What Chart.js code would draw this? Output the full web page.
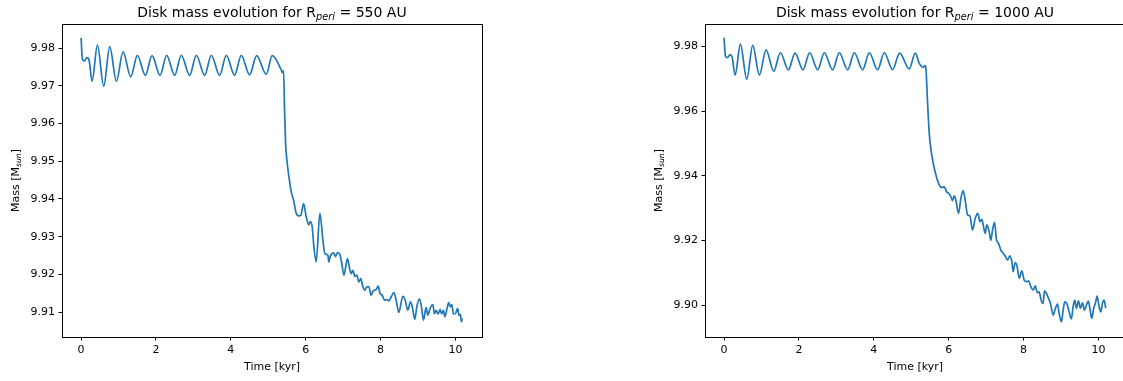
<!DOCTYPE html>
<html>
<head>
<meta charset="utf-8">
<title>Disk mass evolution</title>
<script src="https://cdn.jsdelivr.net/npm/chart.js@4.4.1/dist/chart.umd.min.js"></script>
<style>
    html, body { margin: 0; padding: 0; background: #fff; }
    body { width: 1123px; height: 381px; overflow: hidden; position: relative; }
    canvas { position: absolute; top: 0; }
    #massChart550 { left: 0; }
    #massChart1000 { left: 643px; }
</style>
</head>
<body>
<canvas id="massChart550" width="561" height="381"></canvas>
<canvas id="massChart1000" width="561" height="381"></canvas>
<script>
// Axis ticks and limits
const xTicks = [0, 2, 4, 6, 8, 10];
const xLimits = [-0.51, 10.71];
const yTicks550 = [9.91, 9.92, 9.93, 9.94, 9.95, 9.96, 9.97, 9.98];
const yLimits550 = [9.9034, 9.9864];
const yTicks1000 = [9.90, 9.92, 9.94, 9.96, 9.98];
const yLimits1000 = [9.8901, 9.9870];

// R_peri = 550 AU
const time550 = [
    0, 0.036, 0.089, 0.160, 0.214, 0.294, 0.436, 0.605, 0.765, 0.943,
    1.121, 1.326, 1.504, 1.717, 1.895, 2.109, 2.286, 2.500, 2.678, 2.900,
    3.078, 3.301, 3.479, 3.701, 3.879, 4.101, 4.279, 4.502, 4.689, 4.947,
    5.107, 5.347, 5.374, 5.409, 5.436, 5.463, 5.498, 5.552, 5.614, 5.676,
    5.747, 5.819, 5.872, 5.943, 6.014, 6.085, 6.121, 6.174, 6.219, 6.281,
    6.379, 6.459, 6.512, 6.593, 6.619, 6.655, 6.744, 6.797, 6.851, 6.904,
    6.966, 7.020, 7.117, 7.171, 7.215, 7.260, 7.313, 7.367, 7.420, 7.473,
    7.527, 7.580, 7.633, 7.687, 7.749, 7.811, 7.883, 7.936, 7.989, 8.043,
    8.105, 8.167, 8.221, 8.292, 8.354, 8.416, 8.488, 8.594, 8.657, 8.728,
    8.799, 8.843, 8.915, 8.968, 9.039, 9.093, 9.146, 9.217, 9.262, 9.324,
    9.395, 9.440, 9.484, 9.537, 9.591, 9.635, 9.680, 9.715, 9.778, 9.822,
    9.867, 9.902, 9.947, 10.000, 10.062, 10.089, 10.133, 10.160, 10.178
];
const mass550 = [
    9.9827, 9.9770, 9.9766, 9.9775, 9.9768, 9.9712, 9.9808, 9.9699, 9.9804, 9.9712,
    9.9790, 9.9724, 9.9781, 9.9728, 9.9780, 9.9728, 9.9781, 9.9728, 9.9781, 9.9728,
    9.9781, 9.9728, 9.9781, 9.9728, 9.9781, 9.9728, 9.9781, 9.9729, 9.9780, 9.9731,
    9.9780, 9.9742, 9.9735, 9.9740, 9.9636, 9.9547, 9.9503, 9.9459, 9.9419, 9.9397,
    9.9362, 9.9355, 9.9357, 9.9388, 9.9353, 9.9331, 9.9340, 9.9326, 9.9273, 9.9233,
    9.9362, 9.9291, 9.9255, 9.9251, 9.9233, 9.9247, 9.9257, 9.9247, 9.9258, 9.9255,
    9.9229, 9.9198, 9.9242, 9.9216, 9.9202, 9.9211, 9.9195, 9.9198, 9.9180, 9.9189,
    9.9167, 9.9158, 9.9167, 9.9167, 9.9145, 9.9157, 9.9160, 9.9169, 9.9149, 9.9145,
    9.9132, 9.9133, 9.9130, 9.9142, 9.9152, 9.9132, 9.9099, 9.9142, 9.9132, 9.9105,
    9.9127, 9.9116, 9.9081, 9.9114, 9.9135, 9.9114, 9.9079, 9.9112, 9.9092, 9.9110,
    9.9120, 9.9096, 9.9105, 9.9095, 9.9107, 9.9095, 9.9105, 9.9088, 9.9110, 9.9125,
    9.9114, 9.9120, 9.9095, 9.9096, 9.9110, 9.9092, 9.9094, 9.9074, 9.9083
];

// R_peri = 1000 AU
const time1000 = [
    0, 0.036, 0.089, 0.160, 0.214, 0.294, 0.436, 0.605, 0.765, 0.943,
    1.121, 1.326, 1.504, 1.717, 1.895, 2.109, 2.286, 2.500, 2.678, 2.900,
    3.078, 3.301, 3.479, 3.701, 3.879, 4.101, 4.279, 4.502, 4.689, 4.947,
    5.107, 5.214, 5.320, 5.365, 5.391, 5.436, 5.480, 5.534, 5.587, 5.658,
    5.747, 5.819, 5.881, 5.943, 5.996, 6.059, 6.103, 6.148, 6.192, 6.263,
    6.326, 6.388, 6.441, 6.504, 6.566, 6.637, 6.708, 6.779, 6.833, 6.886,
    6.922, 6.975, 7.020, 7.082, 7.126, 7.171, 7.224, 7.278, 7.331, 7.393,
    7.456, 7.509, 7.571, 7.633, 7.687, 7.722, 7.776, 7.829, 7.883, 7.954,
    8.016, 8.078, 8.132, 8.194, 8.256, 8.310, 8.372, 8.416, 8.470, 8.523,
    8.559, 8.612, 8.665, 8.719, 8.790, 8.843, 8.906, 8.950, 9.012, 9.057,
    9.101, 9.155, 9.217, 9.279, 9.324, 9.368, 9.413, 9.466, 9.520, 9.573,
    9.626, 9.680, 9.733, 9.778, 9.822, 9.875, 9.929, 9.964, 10.018, 10.062,
    10.107, 10.151, 10.196
];
const mass1000 = [
    9.9827, 9.9770, 9.9766, 9.9775, 9.9768, 9.9712, 9.9808, 9.9699, 9.9804, 9.9712,
    9.9790, 9.9724, 9.9781, 9.9728, 9.9780, 9.9728, 9.9781, 9.9728, 9.9781, 9.9728,
    9.9781, 9.9728, 9.9781, 9.9728, 9.9781, 9.9728, 9.9781, 9.9729, 9.9780, 9.9731,
    9.9780, 9.9748, 9.9736, 9.9741, 9.9733, 9.9625, 9.9532, 9.9475, 9.9439, 9.9403,
    9.9372, 9.9364, 9.9366, 9.9351, 9.9346, 9.9335, 9.9323, 9.9338, 9.9325, 9.9284,
    9.9330, 9.9354, 9.9325, 9.9279, 9.9276, 9.9232, 9.9268, 9.9284, 9.9258, 9.9265,
    9.9248, 9.9222, 9.9248, 9.9227, 9.9201, 9.9232, 9.9256, 9.9201, 9.9191, 9.9170,
    9.9160, 9.9152, 9.9139, 9.9152, 9.9134, 9.9103, 9.9131, 9.9119, 9.9083, 9.9106,
    9.9077, 9.9072, 9.9075, 9.9057, 9.9046, 9.9059, 9.9038, 9.9041, 9.9015, 9.9005,
    9.9044, 9.9036, 9.9021, 9.9005, 9.8969, 9.8987, 9.9003, 9.8974, 9.8948, 9.8984,
    9.9010, 9.9005, 9.8979, 9.8957, 9.8995, 9.9015, 9.8990, 9.9013, 9.8990, 9.9007,
    9.8984, 9.9000, 9.9012, 9.8984, 9.8959, 9.8990, 9.9010, 9.9028, 9.8995, 9.8979,
    9.9005, 9.9015, 9.8990
];

const FONT = '"DejaVu Sans"';
const tickFont = { family: FONT, size: 11 };
const tickGrid = {
    drawOnChartArea: false,
    drawTicks: true,
    tickLength: 3.5,
    color: '#000',
    lineWidth: 1
};

// Draw text pieces one after another (used for mathtext-like subscripts)
const drawParts = (ctx, parts, y) => {
    let total = 0;
    parts.forEach(p => { ctx.font = p.font; total += ctx.measureText(p.text).width; });
    let x = -total / 2;
    parts.forEach(p => {
        ctx.font = p.font;
        ctx.fillText(p.text, x, y + (p.dy || 0));
        x += ctx.measureText(p.text).width;
    });
};

// Frame, title and y label drawn the way matplotlib does them
const mplDecor = {
    id: 'mplDecor',
    afterDraw(chart, args, opts) {
        const { ctx, chartArea: a } = chart;
        ctx.save();
        ctx.strokeStyle = '#000';
        ctx.lineWidth = 1;
        ctx.strokeRect(a.left + 0.5, a.top + 0.5, a.right - a.left, a.bottom - a.top);

        ctx.fillStyle = '#000';
        ctx.textBaseline = 'alphabetic';
        ctx.textAlign = 'left';

        ctx.save();
        ctx.translate((a.left + a.right) / 2, 0);
        drawParts(ctx, [
            { text: 'Disk mass evolution for R', font: `14px ${FONT}` },
            { text: 'peri', font: `italic 9.8px ${FONT}`, dy: 2.6 },
            { text: ' = ' + opts.rperi + ' AU', font: `14px ${FONT}` }
        ], 17);
        ctx.restore();

        ctx.save();
        ctx.translate(a.left - 43.5, (a.top + a.bottom) / 2);
        ctx.rotate(-Math.PI / 2);
        drawParts(ctx, [
            { text: 'Mass [M', font: `11px ${FONT}` },
            { text: 'sun', font: `italic 7.7px ${FONT}`, dy: 2 },
            { text: ']', font: `11px ${FONT}` }
        ], 0);
        ctx.restore();

        ctx.restore();
    }
};

const createMassChart = (id, times, masses, yLimits, yTicks, rperi) => {
    const ctx = document.getElementById(id)?.getContext('2d');
    if (!ctx) return;
    new Chart(ctx, {
        type: 'line',
        data: {
            datasets: [{
                data: times.map((t, i) => ({ x: t, y: masses[i] })),
                borderColor: '#1f77b4',
                borderWidth: 1.7,
                pointRadius: 0,
                fill: false,
                cubicInterpolationMode: 'monotone'
            }]
        },
        options: {
            responsive: false,
            animation: false,
            events: [],
            layout: { padding: { left: 0, right: 79, top: 24, bottom: 0 } },
            plugins: {
                legend: { display: false },
                tooltip: { enabled: false },
                mplDecor: { rperi: rperi }
            },
            scales: {
                x: {
                    type: 'linear',
                    min: xLimits[0],
                    max: xLimits[1],
                    afterBuildTicks: s => { s.ticks = xTicks.map(v => ({ value: v })); },
                    afterFit: s => { s.height = 44; },
                    grid: tickGrid,
                    border: { display: false },
                    ticks: {
                        font: tickFont, color: '#000', padding: 3,
                        maxRotation: 0, autoSkip: false,
                        callback: v => String(v)
                    },
                    title: {
                        display: true, text: 'Time [kyr]', color: '#000',
                        font: { family: FONT, size: 11 },
                        padding: { top: 0, bottom: 7 }
                    }
                },
                y: {
                    type: 'linear',
                    min: yLimits[0],
                    max: yLimits[1],
                    afterBuildTicks: s => { s.ticks = yTicks.map(v => ({ value: v })); },
                    afterFit: s => { s.width = 62; },
                    grid: tickGrid,
                    border: { display: false },
                    ticks: {
                        font: tickFont, color: '#000', padding: 3.5,
                        autoSkip: false,
                        callback: v => v.toFixed(2)
                    }
                }
            }
        },
        plugins: [mplDecor]
    });
};

document.addEventListener('DOMContentLoaded', function() {
    createMassChart('massChart550', time550, mass550, yLimits550, yTicks550, '550');
    createMassChart('massChart1000', time1000, mass1000, yLimits1000, yTicks1000, '1000');
});
</script>
</body>
</html>
